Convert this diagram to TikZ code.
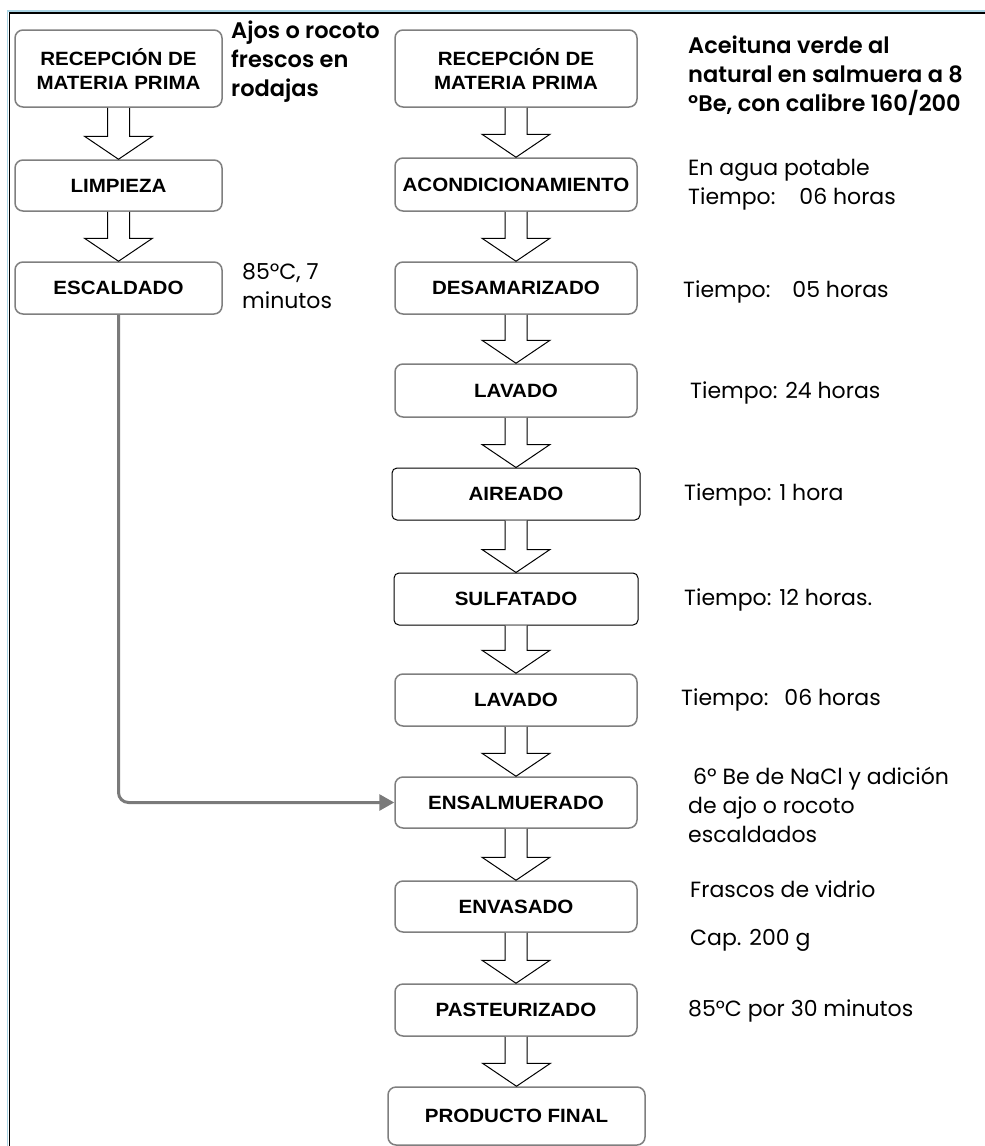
\documentclass[tikz,border=0pt]{standalone}
\usepackage{fontspec}
\setmainfont{Liberation Sans}
\newfontfamily\boxfont{Liberation Sans}[FakeStretch=1.07]
\newfontfamily\annot{Poppins}
\newfontfamily\annotmed{Poppins SemiBold}
\usetikzlibrary{arrows.meta,calc}
\definecolor{boxgray}{HTML}{7F7F7F}
\definecolor{conngray}{HTML}{7A7A7A}
\definecolor{frameblue}{HTML}{A9D3E3}
\tikzset{
 stepbox/.style={draw=boxgray, line width=1.5pt, rounded corners=8pt, fill=white,
   minimum width=242pt, inner sep=0pt, align=center,
   font=\boxfont\bfseries\fontsize{19.2pt}{24pt}\selectfont},
 leftbox/.style={stepbox, minimum width=207pt},
 darkbox/.style={stepbox, draw=black, line width=1pt, rounded corners=5pt},
 note/.style={anchor=west, align=left, inner sep=0pt, font=\annot\fontsize{22pt}{29pt}\selectfont},
 notemed/.style={note, font=\annotmed\fontsize{22.5pt}{29pt}\selectfont},
 blk/.style={draw=black, line width=1pt, fill=white, line join=miter},
 conn/.style={draw=conngray, line width=3pt, rounded corners=10pt, -{Triangle[length=15pt,width=16pt]}},
}
\newcommand\flowarrow[2]{%
 \path[blk] let \p1=(#1.south), \p2=(#2.north) in
  (\x1-11pt,\y1) -- (\x1-11pt,\y2+23pt) -- (\x2-34pt,\y2+23pt) -- (\x2,\y2)
  -- (\x2+34pt,\y2+23pt) -- (\x1+11pt,\y2+23pt) -- (\x1+11pt,\y1);}
\begin{document}
\begin{tikzpicture}[x=1pt,y=-1pt]
\useasboundingbox (0,0) rectangle (985,1146);
% frame
\draw[frameblue, line width=1.5pt] (7.3,1146) -- (7.3,11) -- (985,11);
\draw[black, line width=1.5pt] (9.3,1146) -- (9.3,12.8) -- (985,12.8);
% left column
\node[leftbox, minimum height=77pt] (l1) at (118.5,68.5) {RECEPCIÓN DE\\MATERIA PRIMA};
\node[leftbox, minimum height=51pt] (l2) at (118.5,185.5) {LIMPIEZA};
\node[leftbox, minimum height=52pt] (l3) at (118.5,288) {ESCALDADO};
% right column
\node[stepbox, minimum height=77pt] (r1) at (516,68.5) {RECEPCIÓN DE\\MATERIA PRIMA};
\node[stepbox, minimum height=53pt] (r2) at (516,184.5) {ACONDICIONAMIENTO};
\node[stepbox, minimum height=52pt] (r3) at (516,288) {DESAMARIZADO};
\node[stepbox, minimum height=53pt] (r4) at (516,390.5) {LAVADO};
\node[darkbox, minimum width=248pt, minimum height=52pt] (r5) at (516,494) {AIREADO};
\node[darkbox, minimum width=244pt, minimum height=52pt] (r6) at (516,599) {SULFATADO};
\node[stepbox, minimum height=52pt] (r7) at (516,700) {LAVADO};
\node[stepbox, minimum height=51pt] (r8) at (516,802.5) {ENSALMUERADO};
\node[stepbox, minimum height=51pt] (r9) at (516,906.5) {ENVASADO};
\node[stepbox, minimum height=52pt] (r10) at (516,1010) {PASTEURIZADO};
\node[stepbox, minimum width=257pt, minimum height=58pt] (r11) at (516.5,1116) {PRODUCTO FINAL};
% block arrows
\flowarrow{l1}{l2}
\flowarrow{l2}{l3}
\flowarrow{r1}{r2}
\flowarrow{r2}{r3}
\flowarrow{r3}{r4}
\flowarrow{r4}{r5}
\flowarrow{r5}{r6}
\flowarrow{r6}{r7}
\flowarrow{r7}{r8}
\flowarrow{r8}{r9}
\flowarrow{r9}{r10}
\flowarrow{r10}{r11}
% connector
\draw[conn] (l3.south) |- (r8.west);
% notes
\node[notemed] (n1) at (231,62) {Ajos o rocoto\\frescos en\\rodajas};
\node[notemed] (n2) at (688,76) {Aceituna verde al\\natural en salmuera a 8\\ºBe, con calibre 160/200};
\node[note] (n3) at (242,286) {85ºC, 7\\minutos};
\node[note] (n4) at (688,185) {En agua potable\\Tiempo:\hspace{24pt}06 horas};
\node[note] (n5) at (683,292) {Tiempo:\hspace{22pt}05 horas};
\node[note] (n6) at (690,393) {Tiempo: 24 horas};
\node[note] (n7) at (684,495) {Tiempo: 1 hora};
\node[note] (n8) at (684,600) {Tiempo: 12 horas.};
\node[note] (n9) at (681,700) {Tiempo:\hspace{16pt}06 horas};
\node[note] (n10) at (688,805) {\hspace*{5pt}6º Be de NaCl y adición\\de ajo o rocoto\\escaldados};
\node[note] (n11) at (690,889) {Frascos de vidrio};
\node[note] (n12) at (690,940) {Cap. 200 g};
\node[note] (n13) at (688,1011) {85°C por 30 minutos};
\end{tikzpicture}
\end{document}
